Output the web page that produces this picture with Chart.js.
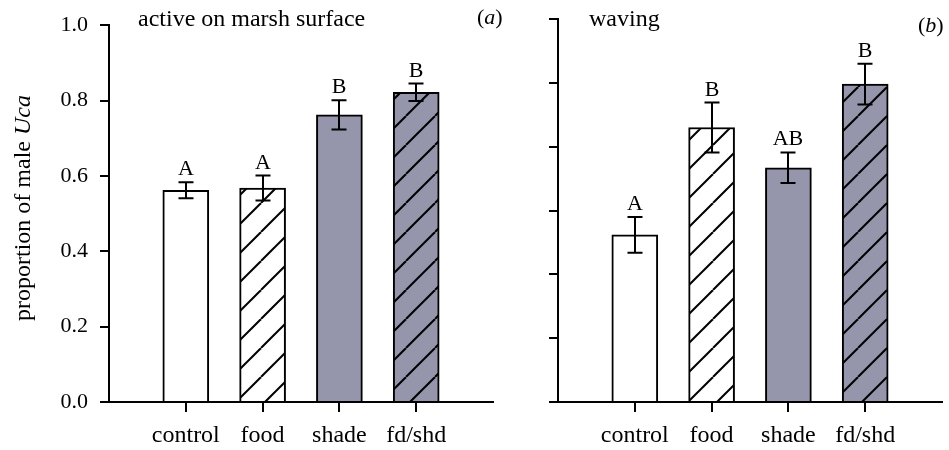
<!DOCTYPE html>
<html>
<head>
<meta charset="utf-8">
<script src="https://cdn.jsdelivr.net/npm/chart.js@4/dist/chart.umd.min.js"></script>
<style>
  html, body { margin: 0; padding: 0; background: #fff; }
  #wrap { position: relative; width: 949px; height: 450px; overflow: hidden; background: #fff; }
  #wrap canvas { position: absolute; top: 0; }
</style>
</head>
<body>
<div id="wrap">
  <canvas id="panelA" width="510" height="450" style="left:0"></canvas>
  <canvas id="panelB" width="439" height="450" style="left:510px"></canvas>
</div>
<script>
// Treatments along the x axis
const categories = ['control', 'food', 'shade', 'fd/shd'];

// (a) proportion of males active on the marsh surface
const activeMean = [0.562, 0.568, 0.762, 0.822];
const activeSE = [0.021, 0.033, 0.039, 0.023];
const activeLetters = ['A', 'A', 'B', 'B'];
const activeTicks = [0, 0.2, 0.4, 0.6, 0.8, 1.0];
const activeTickLabels = ['0.0', '0.2', '0.4', '0.6', '0.8', '1.0'];

// (b) proportion of males waving (axis drawn without labels)
const wavingMean = [0.262, 0.430, 0.367, 0.498];
const wavingSE = [0.028, 0.039, 0.024, 0.032];
const wavingLetters = ['A', 'B', 'AB', 'B'];
const wavingTicks = [0, 0.1, 0.2, 0.3, 0.4, 0.5, 0.6];

const SERIF = "'Liberation Serif', 'Times New Roman', serif";
const GREY = 'rgb(149,149,171)';

// Diagonal "/" hatching over a background colour
function hatch(bg) {
  const s = 29;
  const c = document.createElement('canvas');
  c.width = s; c.height = s;
  const g = c.getContext('2d');
  g.fillStyle = bg;
  g.fillRect(0, 0, s, s);
  g.strokeStyle = '#000';
  g.lineWidth = 2;
  for (const k of [-1, 0, 1]) {
    g.beginPath();
    g.moveTo(k * s, s);
    g.lineTo(k * s + s, 0);
    g.stroke();
  }
  return g.createPattern(c, 'repeat');
}

function fills() {
  return ['#ffffff', hatch('#ffffff'), GREY, hatch(GREY)];
}

// Draws a run of text pieces with different font styles, left to right
function drawRuns(ctx, runs, x, y) {
  let cx = x;
  for (const r of runs) {
    ctx.font = r.font;
    ctx.fillText(r.text, cx, y);
    cx += ctx.measureText(r.text).width;
  }
}
function runsWidth(ctx, runs) {
  let w = 0;
  for (const r of runs) { ctx.font = r.font; w += ctx.measureText(r.text).width; }
  return w;
}

function panelPlugin(cfg) {
  return {
    id: 'panelDecor_' + cfg.key,
    afterDatasetsDraw(chart) {
      const ctx = chart.ctx;
      const ys = chart.scales.y;
      const bars = chart.getDatasetMeta(0).data;
      ctx.save();
      ctx.strokeStyle = '#000';
      ctx.fillStyle = '#000';
      ctx.lineWidth = 2;
      bars.forEach((bar, i) => {
        const hi = ys.getPixelForValue(cfg.mean[i] + cfg.se[i]);
        const lo = ys.getPixelForValue(cfg.mean[i] - cfg.se[i]);
        const x = Math.round(bar.x);
        ctx.beginPath();
        ctx.moveTo(x, hi); ctx.lineTo(x, lo);
        ctx.moveTo(x - 7.5, hi); ctx.lineTo(x + 7.5, hi);
        ctx.moveTo(x - 7.5, lo); ctx.lineTo(x + 7.5, lo);
        ctx.stroke();
        ctx.font = '22px ' + SERIF;
        ctx.textAlign = 'center';
        ctx.textBaseline = 'alphabetic';
        ctx.fillText(cfg.letters[i], x, hi - 7);
      });

      // panel heading
      ctx.textAlign = 'left';
      ctx.font = '24px ' + SERIF;
      ctx.fillText(cfg.heading, cfg.headingX, 26);

      // panel tag, e.g. (a)
      ctx.textBaseline = 'middle';
      drawRuns(ctx, [
        { text: '(', font: '22px ' + SERIF },
        { text: cfg.tag, font: 'italic 22px ' + SERIF },
        { text: ')', font: '22px ' + SERIF }
      ], cfg.tagX, cfg.tagY);

      // y axis title with italic genus name
      if (cfg.yTitle) {
        const runs = [
          { text: 'proportion of male ', font: '24px ' + SERIF },
          { text: 'Uca', font: 'italic 24px ' + SERIF }
        ];
        ctx.translate(30, 208);
        ctx.rotate(-Math.PI / 2);
        ctx.textBaseline = 'alphabetic';
        const w = runsWidth(ctx, runs);
        drawRuns(ctx, runs, -w / 2, 0);
      }
      ctx.restore();
    }
  };
}

function makePanel(canvasId, cfg) {
  return new Chart(document.getElementById(canvasId), {
    type: 'bar',
    data: {
      datasets: [{
        data: cfg.mean.map((v, i) => ({ x: i + 1, y: v })),
        backgroundColor: fills(),
        borderColor: '#000',
        borderWidth: 2,
        barThickness: 46
      }]
    },
    options: {
      responsive: false,
      animation: false,
      devicePixelRatio: 1,
      layout: { padding: { left: 0, right: cfg.padRight, top: 19, bottom: 0 } },
      plugins: { legend: { display: false }, tooltip: { enabled: false } },
      scales: {
        x: {
          type: 'linear',
          offset: false,
          min: 0,
          max: categories.length + 1,
          afterBuildTicks: (s) => { s.ticks = categories.map((_, i) => ({ value: i + 1 })); },
          afterFit: (s) => { s.height = 48; },
          ticks: {
            callback: (v) => categories[v - 1],
            color: '#000',
            font: { family: SERIF, size: 24 },
            padding: 9,
            maxRotation: 0,
            autoSkip: false
          },
          grid: { offset: false, drawOnChartArea: false, drawTicks: true, tickLength: 10, color: '#000', lineWidth: 2 },
          border: { display: true, color: '#000', width: 2 }
        },
        y: {
          min: 0,
          max: cfg.ticks[cfg.ticks.length - 1],
          afterBuildTicks: (s) => { s.ticks = cfg.ticks.map(v => ({ value: v })); },
          afterFit: (s) => { s.width = cfg.axisWidth; },
          ticks: {
            display: !!cfg.tickLabels,
            callback: (v, i) => cfg.tickLabels ? cfg.tickLabels[i] : '',
            color: '#000',
            font: { family: SERIF, size: 22 },
            padding: 12
          },
          grid: { drawOnChartArea: false, drawTicks: true, tickLength: 9, color: '#000', lineWidth: 2 },
          border: { display: true, color: '#000', width: 2 }
        }
      }
    },
    plugins: [panelPlugin(cfg)]
  });
}

makePanel('panelA', {
  key: 'a', mean: activeMean, se: activeSE, letters: activeLetters,
  ticks: activeTicks, tickLabels: activeTickLabels,
  axisWidth: 109, padRight: 17,
  heading: 'active on marsh surface', headingX: 138,
  tag: 'a', tagX: 477, tagY: 18, yTitle: true
});

makePanel('panelB', {
  key: 'b', mean: wavingMean, se: wavingSE, letters: wavingLetters,
  ticks: wavingTicks, tickLabels: null,
  axisWidth: 48, padRight: 7,
  heading: 'waving', headingX: 79,
  tag: 'b', tagX: 408, tagY: 26, yTitle: false
});
</script>
</body>
</html>
